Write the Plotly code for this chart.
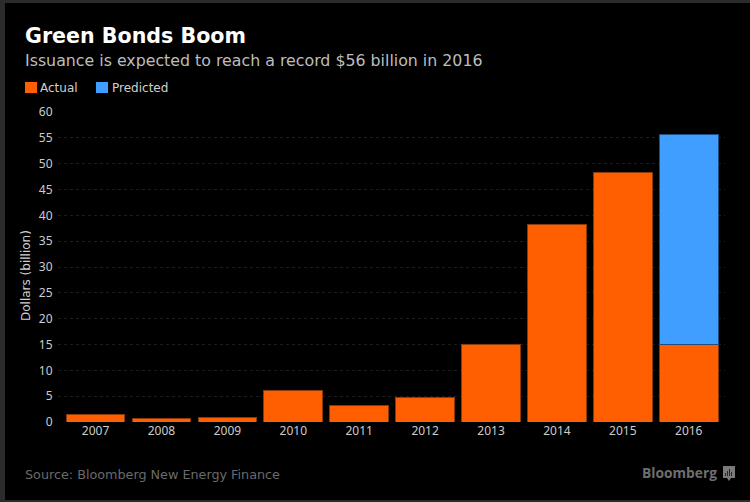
import plotly.graph_objects as go

# values
years = ['2007', '2008', '2009', '2010', '2011', '2012', '2013', '2014', '2015', '2016']
actual = [1.4, 0.6, 0.9, 6.1, 3.2, 4.8, 15.0, 38.2, 48.3, 15.0]
predicted = [None, None, None, None, None, None, None, None, None, 40.7]
y_ticks = list(range(0, 65, 5))
legend_names = ['Actual', 'Predicted']

W, H = 750, 502
L, R, T, B = 58, 25, 112, 80
PW, PH = W - L - R, H - T - B
FONT = 'DejaVu Sans'
TICK_FONT = 'Noto Sans'
ORANGE = '#ff5f00'
BLUE = '#3f9eff'


# page pixels -> paper coordinates
def px(x):
    return (x - L) / PW


def py(y):
    return (H - B - y) / PH


def add_text(text, x, y, size, color, family=FONT, anchor='left', angle=0):
    fig.add_annotation(text=text, xref='paper', yref='paper', x=px(x), y=py(y),
                       xanchor=anchor, yanchor='middle', showarrow=False, textangle=angle,
                       borderpad=0, borderwidth=0,
                       font=dict(size=size, color=color, family=family))


def add_rect(x0, y0, x1, y1, color, layer='above'):
    fig.add_shape(type='rect', xref='paper', yref='paper', layer=layer,
                  x0=px(x0), x1=px(x1), y0=py(y1), y1=py(y0),
                  fillcolor=color, line_width=0)


fig = go.Figure()
fig.add_trace(go.Bar(x=years, y=actual, name=legend_names[0],
                     marker=dict(color=ORANGE, line=dict(color='#8a3a08', width=1))))
fig.add_trace(go.Bar(x=years, y=predicted, name=legend_names[1],
                     marker=dict(color=BLUE, line=dict(color='#1f4f80', width=1))))

fig.update_layout(
    width=W, height=H,
    autosize=False,
    barmode='stack',
    bargap=0.11,
    paper_bgcolor='#2b2b2b',
    plot_bgcolor='#000000',
    margin=dict(l=L, r=R, t=T, b=B, pad=0, autoexpand=False),
    font=dict(family=FONT, color='#d0d0d0', size=12),
    showlegend=False,
)

fig.update_xaxes(type='category', categoryorder='array', categoryarray=years,
                 range=[-0.57, 9.55], showgrid=False, zeroline=False, showline=False,
                 ticks='', tickfont=dict(size=12, color='#cccccc', family=TICK_FONT))
fig.update_yaxes(range=[0, 60], tickvals=y_ticks, showgrid=True,
                 gridcolor='#1d1d1d', griddash='dot', gridwidth=1, zeroline=False,
                 ticks='outside', ticklen=2, tickcolor='rgba(0,0,0,0)',
                 tickfont=dict(size=12, color='#cccccc', family=TICK_FONT))

# black panel inside the grey screenshot frame
add_rect(5, 3, W, 500, '#000000', layer='below')

add_text('<b>Green Bonds Boom</b>', 25, 36, 20.6, '#ffffff')
add_text('Issuance is expected to reach a record $56 billion in 2016', 25, 60, 15.8, '#bdbdbd')
add_text('Source: Bloomberg New Energy Finance', 25, 474, 12.75, '#6a6a6a')
add_text('Dollars (billion)', 26, 276, 12, '#cfcfcf', anchor='center', angle=-90)

# legend
add_rect(25, 82, 37, 93, ORANGE)
add_text(legend_names[0], 40, 88, 12, '#d0d0d0')
add_rect(96, 82, 108, 93, BLUE)
add_text(legend_names[1], 112, 88, 12, '#d0d0d0')

# Bloomberg logo
add_text('<b>Bloomberg</b>', 717, 472, 13.8, '#6e6e6e', family='Open Sans', anchor='right')
add_rect(723, 466, 735, 478, '#7a7a7a')
fig.add_shape(type='path', xref='paper', yref='paper', line_width=0, fillcolor='#7a7a7a',
              path=f'M {px(727)} {py(478)} L {px(731)} {py(478)} L {px(729)} {py(481)} Z')
add_rect(725, 473, 726, 476, '#2a2a2a')
add_rect(727, 471, 728, 476, '#2a2a2a')
add_rect(729, 469, 730, 476, '#2a2a2a')
add_rect(731, 472, 732, 476, '#2a2a2a')

fig.write_html('out.html', config={'displayModeBar': False},
               post_script="document.body.style.margin='0';")
